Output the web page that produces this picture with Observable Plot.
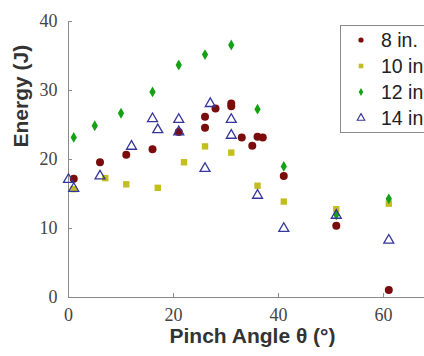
<!DOCTYPE html>
<html><head><meta charset="utf-8">
<script src="https://cdn.jsdelivr.net/npm/d3@7"></script>
<script src="https://cdn.jsdelivr.net/npm/@observablehq/plot@0.6"></script>
<style>
html,body{margin:0;padding:0;background:#fff;overflow:hidden;width:424px;height:356px}
#wrap{position:relative;width:424px;height:356px;overflow:hidden}
#legend{position:absolute;left:340px;top:25px;width:140px;height:108px;border:1px solid #8a8a8a;background:#fff;box-sizing:border-box;font-family:"Liberation Sans",Arial,sans-serif;font-size:19.5px;color:#222}
.row{position:absolute;left:0;height:26px;display:flex;align-items:center;white-space:nowrap}
.row svg{margin-left:14px;margin-right:14px}
</style></head>
<body><div id="wrap"><div id="chart"></div><div id="legend"></div></div>
<script>
const seriesNames = ["8 in.", "10 in.", "12 in.", "14 in."];
const angle8  = [1, 6, 11, 16, 21, 26, 26, 28, 31, 31, 33, 35, 36, 37, 41, 51, 61];
const energy8 = [17.2, 19.6, 20.7, 21.5, 24.0, 26.2, 24.6, 27.4, 28.1, 27.7, 23.2, 22.0, 23.3, 23.2, 17.6, 10.4, 1.1];
const angle10  = [1, 7, 11, 17, 22, 26, 31, 36, 41, 51, 61];
const energy10 = [15.7, 17.3, 16.4, 15.9, 19.6, 21.9, 21.0, 16.2, 13.9, 12.8, 13.6];
const angle12  = [1, 5, 10, 16, 21, 26, 31, 36, 41, 51, 61];
const energy12 = [23.2, 24.9, 26.7, 29.8, 33.7, 35.2, 36.6, 27.3, 19.0, 12.0, 14.3];
const angle14  = [0, 1, 6, 12, 16, 17, 21, 21, 26, 27, 31, 31, 36, 41, 51, 61];
const energy14 = [17.1, 15.8, 17.6, 21.9, 25.9, 24.3, 25.8, 24.0, 18.7, 28.1, 25.8, 23.5, 14.8, 10.0, 11.9, 8.3];
const xTicks = [0, 20, 40, 60];
const yTicks = [0, 10, 20, 30, 40];
const colors = ["#7a0c0c", "#c4bd1e", "#15a015", "#35359a"];
const symbols = ["circle", "square", "diamond", "triangle"];

const toRows = (xs, ys) => xs.map((x, i) => ({x, y: ys[i]}));
const d8 = toRows(angle8, energy8), d10 = toRows(angle10, energy10),
      d12 = toRows(angle12, energy12), d14 = toRows(angle14, energy14);

const tickFont = {fontFamily: "'Liberation Serif', 'DejaVu Serif', serif", fontSize: 18};
const titleFont = {fontFamily: "'Liberation Sans', Arial, sans-serif", fontWeight: "bold", fontSize: 21, fill: "#333"};
const chart = Plot.plot({
  width: 424, height: 356,
  marginLeft: 68, marginRight: 0, marginTop: 21, marginBottom: 59,
  style: {background: "#fff", overflow: "visible"},
  x: {domain: [0, 67.8]},
  y: {domain: [0, 40]},
  marks: [
    Plot.ruleX([0], {stroke: "#8a8a8a", strokeWidth: 1}),
    Plot.ruleY([0], {stroke: "#8a8a8a", strokeWidth: 1}),
    Plot.axisX({ticks: xTicks, tickSize: -4, tickPadding: 15, stroke: "#8a8a8a", color: "#444", ...tickFont, label: null}),
    Plot.axisY({ticks: yTicks, tickSize: -4, tickPadding: 15, stroke: "#8a8a8a", color: "#444", ...tickFont, label: null}),
    Plot.dot(d8, {x: "x", y: "y", symbol: symbols[0], r: 4, fill: colors[0], stroke: "none"}),
    Plot.dot(d10, {x: "x", y: "y", symbol: symbols[1], r: 3.6, fill: colors[1], stroke: "none"}),
    Plot.dot(d12, {x: "x", y: "y", symbol: symbols[2], r: 3.3, fill: colors[2], stroke: "none"}),
    Plot.dot(d14, {x: "x", y: "y", symbol: symbols[3], r: 3.7, fill: "none", stroke: colors[3], strokeWidth: 1.3}),
    Plot.text(["Pinch Angle θ (°)"], {frameAnchor: "bottom", dx: 6, dy: 45, text: d => d, ...titleFont}),
    Plot.text(["Energy (J)"], {frameAnchor: "left", dx: -47, dy: -12, rotate: -90, text: d => d, ...titleFont})
  ]
});
document.getElementById("chart").appendChild(chart);

const legend = document.getElementById("legend");
const sizes = [2.6, 2.6, 2.4, 2.8];
seriesNames.forEach((name, i) => {
  const row = document.createElement("div");
  row.className = "row";
  row.style.top = (1 + i * 26) + "px";
  const sym = d3.symbol(d3["symbol" + symbols[i][0].toUpperCase() + symbols[i].slice(1)], Math.PI * sizes[i] * sizes[i])();
  const fill = i === 3 ? "none" : colors[i];
  const stroke = i === 3 ? colors[i] : "none";
  row.innerHTML = `<svg width="12" height="14" viewBox="-6 -7 12 14"><path d="${sym}" fill="${fill}" stroke="${stroke}" stroke-width="1.1"/></svg><span>${name}</span>`;
  legend.appendChild(row);
});
</script>
</body></html>
